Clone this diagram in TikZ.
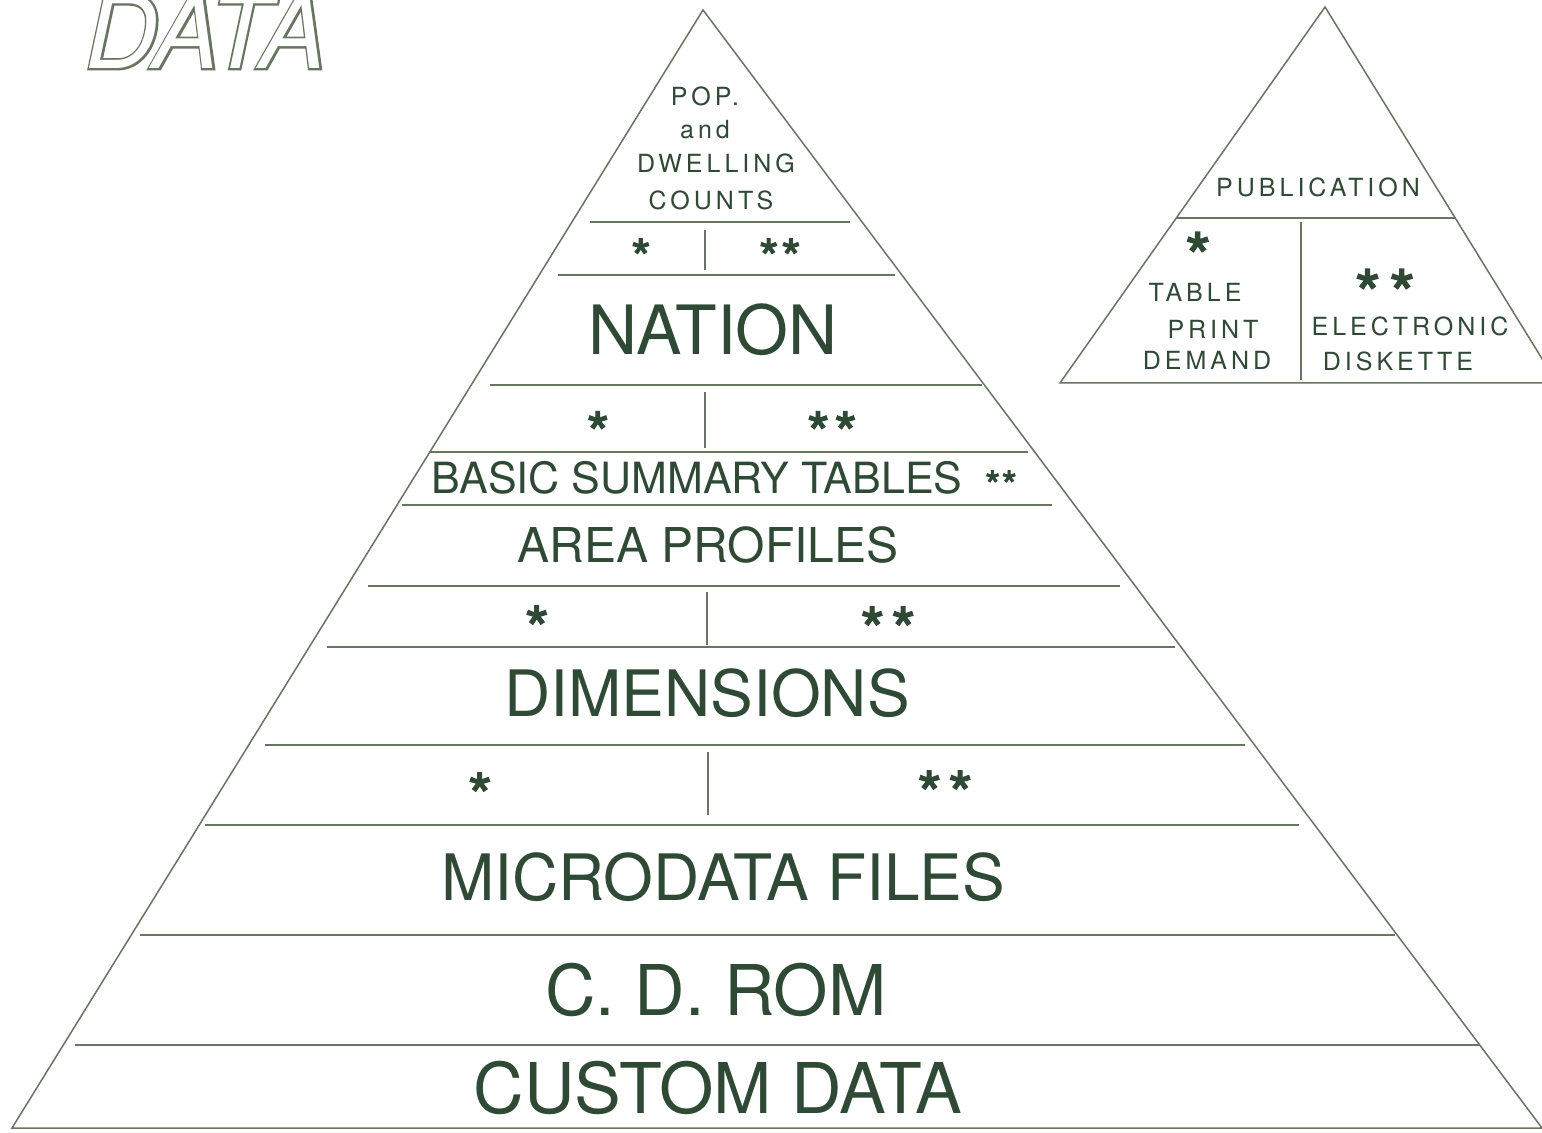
\documentclass[tikz,border=0pt]{standalone}
\usepackage{fontspec}
\setmainfont{TeX Gyre Heros}
\definecolor{ink}{HTML}{2E4A34}
\definecolor{rule}{HTML}{66765F}
\newcommand{\tracked}{\addfontfeature{LetterSpace=16}}

\begin{document}
\begin{tikzpicture}[x=0.5pt,y=-0.5pt]
    \tikzset{
        edge/.style={draw=rule, line width=0.75pt},
        tier/.style={text=ink, inner sep=0pt, font=\fontsize{#1}{#1}\selectfont},
        caps/.style={text=ink, inner sep=0pt, font=\fontsize{12.5}{12.5}\selectfont\tracked},
        stars/.style={text=ink, inner sep=0pt, anchor=base, yshift=-0.57*#1pt,
            font=\fontsize{#1}{#1}\selectfont\addfontfeature{FakeBold=2}}
    }
    \useasboundingbox[fill=white] (0,0) rectangle (1542,1133);

    % outlined heading, top left
    \node[text=rule, font=\fontsize{50}{50}\selectfont\itshape\addfontfeature{FakeBold=4}] (headback) at (206,32) {DATA};
    \node[text=white, font=\fontsize{50}{50}\selectfont\itshape] (head) at (206,32) {DATA};

    % big pyramid
    \coordinate (top) at (703,10);
    \coordinate (bl) at (12,1128);
    \coordinate (br) at (1542,1128);
    \draw[edge] (bl) -- (top) -- (br) -- cycle;

    % tiers
    \draw[edge] (590,222) -- (850,222);
    \draw[edge] (558,275) -- (895,275);
    \draw[edge] (490,385) -- (982,385);
    \draw[edge] (430,452) -- (1028,452);
    \draw[edge] (402,505) -- (1052,505);
    \draw[edge] (368,586) -- (1120,586);
    \draw[edge] (327,647) -- (1175,647);
    \draw[edge] (265,745) -- (1245,745);
    \draw[edge] (205,825) -- (1299,825);
    \draw[edge] (140,935) -- (1395,935);
    \draw[edge] (75,1045) -- (1480,1045);
    % splits between * and **
    \draw[edge] (705,230) -- (705,270);
    \draw[edge] (705,392) -- (705,448);
    \draw[edge] (707,592) -- (707,645);
    \draw[edge] (708,752) -- (708,815);

    \node[caps] (pop) at (705,96) {POP.};
    \node[caps] (and) at (705,130) {and};
    \node[caps] (dwelling) at (716,163) {DWELLING};
    \node[caps] (counts) at (711,200) {COUNTS};
    \node[stars=26] (s1a) at (641,247) {\smash{*}};
    \node[stars=26] (s1b) at (780,247) {\smash{*\kern1pt*}};

    \node[tier=34] (nation) at (713,330) {NATION};
    \node[stars=30] (s2a) at (598,421) {\smash{*}};
    \node[stars=30] (s2b) at (832,421) {\smash{*\kern2pt*}};

    \node[tier=21.5] (bst) at (697,478) {BASIC SUMMARY TABLES};
    \node[stars=20] (bststars) at (1001,477) {\smash{*\kern0.5pt*}};
    \node[tier=24] (profiles) at (708,545) {AREA PROFILES};
    \node[stars=32] (s3a) at (537,616) {\smash{*}};
    \node[stars=32] (s3b) at (888,617) {\smash{*\kern3pt*}};

    \node[tier=32] (dims) at (707,693) {DIMENSIONS};
    \node[stars=32] (s4a) at (480,783) {\smash{*}};
    \node[stars=32] (s4b) at (945,781) {\smash{*\kern3pt*}};

    \node[tier=32] (micro) at (723,877) {MICRODATA FILES};
    \node[tier=35] (cdrom) at (716,990) {C. D. ROM};
    \node[tier=35] (custom) at (718,1088) {CUSTOM DATA};

    % small pyramid
    \coordinate (ptop) at (1325,7);
    \draw[edge] (ptop) -- (1060,383) -- (1557,383) -- cycle;
    \draw[edge] (1176,218) -- (1456,218);
    \draw[edge] (1301,222) -- (1301,380);

    \node[caps] (pub) at (1318,187) {PUBLICATION};
    \node[stars=34] (ps1) at (1198,243) {\smash{*}};
    \node[caps] (table) at (1195,292) {TABLE};
    \node[caps] (print) at (1213,329) {PRINT};
    \node[caps] (demand) at (1207,360) {DEMAND};
    \node[stars=34] (ps2) at (1385,280) {\smash{*\kern4pt*}};
    \node[caps] (elec) at (1410,326) {ELECTRONIC};
    \node[caps] (disk) at (1398,361) {DISKETTE};
\end{tikzpicture}
\end{document}
